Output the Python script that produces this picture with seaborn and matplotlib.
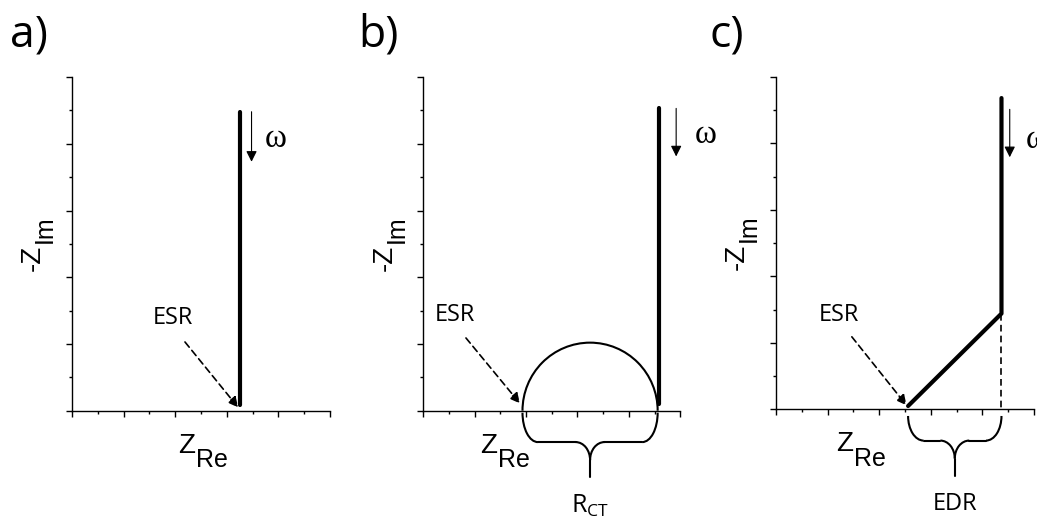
import numpy as np
import seaborn as sns
import matplotlib.pyplot as plt
from matplotlib.patches import Arc

sns.set_style('ticks', {'axes.edgecolor': 'black', 'xtick.color': 'black', 'ytick.color': 'black',
                        'text.color': 'black'})
plt.rcParams['font.family'] = ['Liberation Sans', 'DejaVu Sans']
plt.rcParams['mathtext.fontset'] = 'custom'
plt.rcParams['mathtext.rm'] = 'Open Sans'

# values (arbitrary units, both axes 0..5)
panel_names = ['a)', 'b)', 'c)']

# a) ideal capacitor: vertical line
a_line_x = [3.26, 3.26]
a_line_y = [0.08, 4.48]

# b) semicircle + vertical line
b_esr = 1.93
b_rct = 2.63
b_arc_height = 1.02
b_line_x = [4.58, 4.58]
b_line_y = [0.10, 4.53]

# c) 45 degree diffusion part + vertical line
c_line_x = [2.56, 4.37, 4.37]
c_line_y = [0.05, 1.44, 4.68]

# ESR label and dashed arrows
esr_text_xy = [(1.96, 1.39), (0.61, 1.43), (1.22, 1.42)]
esr_from = [(2.19, 1.03), (0.83, 1.09), (1.47, 1.09)]
esr_to = [(3.22, 0.05), (1.88, 0.11), (2.53, 0.06)]

# omega arrows
omega_x = [3.48, 4.92, 4.53]
omega_top = [4.48, 4.53, 4.51]
omega_bottom = [3.73, 3.81, 3.79]
omega_text_xy = [(3.95, 4.08), (5.49, 4.13), (5.06, 4.05)]

# braces under the axis: (start, end, label)
brace_b = (1.93, 4.56, r'$\mathregular{R_{CT}}$')
brace_c = (2.56, 4.37, 'EDR')

# x label split position (axes fraction)
xlabel_split = [0.477, 0.287, 0.298]

fig = plt.figure(figsize=(10.37, 5.18), dpi=100)
axes = [
    fig.add_axes([0.0694, 0.2071, 0.2488, 0.6442]),
    fig.add_axes([0.4082, 0.2071, 0.2478, 0.6442]),
    fig.add_axes([0.7483, 0.2098, 0.2488, 0.6420]),
]


def setup_axis(ax):
    ax.set_xlim(0, 5)
    ax.set_ylim(0, 5)
    ax.set_xticks(np.arange(0, 6, 1))
    ax.set_yticks(np.arange(0, 6, 1))
    ax.set_xticks(np.arange(0.5, 5, 1), minor=True)
    ax.set_yticks(np.arange(0.5, 5, 1), minor=True)
    ax.set_xticklabels([])
    ax.set_yticklabels([])
    ax.tick_params(which='major', length=4.5, width=1, direction='out')
    ax.tick_params(which='minor', length=2.3, width=1, direction='out')
    sns.despine(ax=ax)
    for s in ['left', 'bottom']:
        ax.spines[s].set_linewidth(1)


def axis_labels(ax, split):
    ax.text(split, -0.126, 'Z', transform=ax.transAxes, ha='right', va='baseline', fontsize=20)
    ax.text(split + 0.005, -0.169, 'Re', transform=ax.transAxes, ha='left', va='baseline', fontsize=18)
    ax.text(-0.124, 0.497, '-Z', transform=ax.transAxes, rotation=90, rotation_mode='anchor',
            ha='right', va='baseline', fontsize=20)
    ax.text(-0.078, 0.503, 'Im', transform=ax.transAxes, rotation=90, rotation_mode='anchor',
            ha='left', va='baseline', fontsize=18)


def brace(ax, x0, x1, label, y_top, y_mid=-0.47, y_tip=-1.0, size=17):
    xc = (x0 + x1) / 2
    rx, ry = 0.3, y_top - y_mid
    rx2, ry2 = 0.28, 0.27
    kw = dict(color='black', lw=1.5, clip_on=False)
    ax.add_patch(Arc((x0 + rx, y_top), 2 * rx, 2 * ry, theta1=180, theta2=270, **kw))
    ax.add_patch(Arc((x1 - rx, y_top), 2 * rx, 2 * ry, theta1=270, theta2=360, **kw))
    ax.plot([x0 + rx, xc - rx2], [y_mid, y_mid], **kw)
    ax.plot([xc + rx2, x1 - rx], [y_mid, y_mid], **kw)
    ax.add_patch(Arc((xc - rx2, y_mid - ry2), 2 * rx2, 2 * ry2, theta1=0, theta2=90, **kw))
    ax.add_patch(Arc((xc + rx2, y_mid - ry2), 2 * rx2, 2 * ry2, theta1=90, theta2=180, **kw))
    ax.plot([xc, xc], [y_mid - ry2, y_tip], **kw)
    ax.text(xc, -1.42, label, ha='center', va='center', fontsize=size, family='Open Sans', clip_on=False)


for i, ax in enumerate(axes):
    setup_axis(ax)
    axis_labels(ax, xlabel_split[i])
    fig.text([10, 358, 710][i] / 1037, 1 - 47 / 518, panel_names[i], fontsize=32,
             family='Open Sans', va='baseline')

    # ESR label + dashed arrow
    ax.text(*esr_text_xy[i], 'ESR', ha='center', va='center', fontsize=17, family='Open Sans')
    ax.annotate('', xy=esr_to[i], xytext=esr_from[i],
                arrowprops=dict(arrowstyle='-|>', color='black', lw=1.2, linestyle=(0, (4, 2.5)),
                                mutation_scale=15, shrinkA=0, shrinkB=0))

    # omega arrow
    ax.annotate('', xy=(omega_x[i], omega_bottom[i]), xytext=(omega_x[i], omega_top[i]),
                arrowprops=dict(arrowstyle='-|>', color='black', lw=0.8,
                                mutation_scale=16, shrinkA=0, shrinkB=0),
                annotation_clip=False)
    ax.text(*omega_text_xy[i], '\u03c9', ha='center', va='center', fontsize=24,
            family='Liberation Serif', clip_on=False)

# a)
sns.lineplot(x=a_line_x, y=a_line_y, estimator=None, sort=False, color='black', lw=3, ax=axes[0])

# b)
axes[1].add_patch(Arc((b_esr + b_rct / 2, 0), b_rct, 2 * b_arc_height, theta1=0, theta2=180,
                      color='black', lw=1.5))
sns.lineplot(x=b_line_x, y=b_line_y, estimator=None, sort=False, color='black', lw=3, ax=axes[1])
brace(axes[1], *brace_b, y_top=-0.03, size=18)

# c)
sns.lineplot(x=c_line_x, y=c_line_y, estimator=None, sort=False, color='black', lw=3, ax=axes[2])
axes[2].plot([c_line_x[1], c_line_x[1]], [c_line_y[1], 0], color='black', lw=1.2, linestyle=(0, (4, 2.5)))
brace(axes[2], *brace_c, y_top=-0.1)

for ax in axes:
    ax.set_xlim(0, 5)
    ax.set_ylim(0, 5)
    ax.set_xlabel('')
    ax.set_ylabel('')

fig.savefig('out.png', dpi=100)
